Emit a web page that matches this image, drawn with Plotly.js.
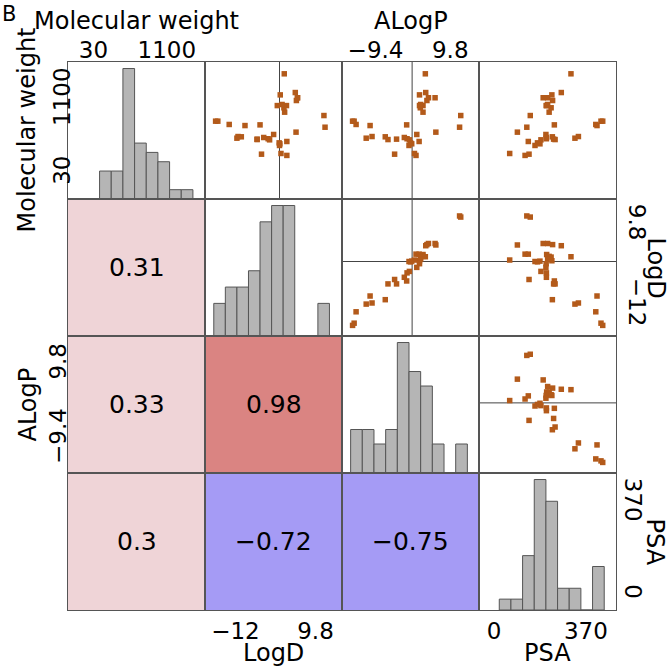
<!DOCTYPE html>
<html><head><meta charset="utf-8">
<script src="https://cdn.plot.ly/plotly-3.0.1.min.js"></script>
<style>html,body{margin:0;padding:0;background:#fff;} #chart{width:669px;height:668px;}</style>
</head><body><div id="chart"></div>
<script>
// ---------------- data ----------------
const variables = ["Molecular weight", "LogD", "ALogP", "PSA"];

const molecularWeight = [706, 876, 634, 1135, 1135, 1095, 1211, 295, 498, 1021, 925, 989, 1177, 1037, 1484, 323, 440, 464, 478, 1021, 600, 522, 538, 556, 313, 740, 532, 526, 566, 546, 570, 730, 746, 794, 794];
const logD = [12.4, 12.1, 4.5, 4.9, 4.9, 4.6, 4.3, 2.0, 2.0, 1.9, 1.4, 1.2, 0.2, 0.7, 1.3, 0.4, 0.0, 0.1, -0.1, -0.6, -1.6, -2.7, -3.1, -4.3, -4.9, -5.3, -6.1, -6.1, -10.4, -11.6, -11.3, -9.4, -13.7, -16.8, -17.4];
const aLogP = [12.2, 12.5, 6.1, 5.9, 4.2, 3.8, 3.5, 1.0, 1.8, 2.8, 2.8, 2.1, 1.9, 2.2, 3.4, 0.6, -0.8, -0.1, -0.4, 1.9, 1.2, -0.7, -1.3, -2.0, -4.5, -1.4, -4.0, -6.2, -6.9, -11.8, -10.3, -10.8, -14.4, -14.9, -15.3];
const psa = [132, 146, 94, 198, 216, 236, 271, 125, 138, 212, 222, 230, 233, 216, 310, 63, 165, 185, 175, 210, 209, 189, 211, 211, 141, 243, 240, 246, 235, 326, 340, 415, 410, 431, 438];

const mwBinEdges = [120, 290, 460, 630, 800, 970, 1140, 1310, 1480];
const mwCounts = [3, 3, 14, 6, 5, 4, 1, 1];
const logDBinEdges = [-17.9, -14.75, -11.6, -8.45, -5.3, -2.15, 1.0, 4.15, 7.3, 10.45, 13.6];
const logDCounts = [2, 3, 3, 4, 7, 8, 8, 0, 0, 2];
const aLogPBinEdges = [-15.8, -12.8, -9.8, -6.8, -3.8, -0.8, 2.2, 5.2, 8.2, 11.2, 14.2];
const aLogPCounts = [3, 3, 2, 3, 9, 7, 6, 2, 0, 2];
const psaBinEdges = [21, 68, 115, 162, 209, 256, 303, 350, 397, 444];
const psaCounts = [1, 1, 5, 12, 10, 2, 2, 0, 4];

// lower-triangle correlation cells (row, column, value)
const corrRows = [1, 2, 2, 3, 3, 3];
const corrCols = [0, 0, 1, 0, 1, 2];
const corrValues = [0.31, 0.33, 0.98, 0.3, -0.72, -0.75];

const mwTicks = [30, 1100];
const logDTicks = [-12, 9.8];
const aLogPTicks = [-9.4, 9.8];
const psaTicks = [0, 370];
const refLineLogD = 0;
const refLineALogP = 0;

// ---------------- layout / style ----------------
const W = 669, H = 668;
const colEdges = [68, 205, 342, 479, 616];
const rowEdges = [62, 199, 336, 473, 610];
const ranges = [[-340, 1656], [-20.29, 17.02], [-18.02, 17.19], [-60.7, 491.5]];
const varData = [molecularWeight, logD, aLogP, psa];
const hists = [
  {edges: mwBinEdges, counts: mwCounts},
  {edges: logDBinEdges, counts: logDCounts},
  {edges: aLogPBinEdges, counts: aLogPCounts},
  {edges: psaBinEdges, counts: psaCounts}
];
const refLines = [null, refLineLogD, refLineALogP, null];
const cellFill = ['#efd4d7', '#efd4d7', '#da8482', '#efd4d7', '#a59bf5', '#a59bf5'];
const FONT = 'DejaVu Sans, sans-serif';
const BORDER = '#555555';
const POINT = '#b35a1a';

function fmt(v) { return String(v).replace('-', '\u2212'); }

const traces = [];
const layout = {
  width: W, height: H,
  margin: {l: 0, r: 0, t: 0, b: 0},
  paper_bgcolor: '#ffffff', plot_bgcolor: 'rgba(0,0,0,0)',
  showlegend: false, shapes: [], annotations: [],
  font: {family: FONT, color: '#000'}
};
function base() {
  return {showgrid: false, zeroline: false, showline: true, mirror: true,
          linecolor: BORDER, linewidth: 1, ticks: '', showticklabels: false, fixedrange: true};
}
const tickFont = {family: FONT, size: 23, color: '#000'};

for (let r = 0; r < 4; r++) {
  for (let c = 0; c < 4; c++) {
    const k = r * 4 + c + 1;
    const sfx = k === 1 ? '' : String(k);
    const xid = 'x' + sfx, yid = 'y' + sfx;
    let yr = ranges[r];
    if (r === c) {
      const m = Math.max.apply(null, hists[r].counts);
      yr = [0, m * 1.05];
    }
    layout['xaxis' + sfx] = Object.assign(base(), {
      domain: [colEdges[c] / W, colEdges[c + 1] / W], anchor: yid, range: ranges[c]});
    layout['yaxis' + sfx] = Object.assign(base(), {
      domain: [1 - rowEdges[r + 1] / H, 1 - rowEdges[r] / H], anchor: xid, range: yr});

    if (r < c) {
      traces.push({type: 'scatter', mode: 'markers', x: varData[c], y: varData[r],
        xaxis: xid, yaxis: yid, hoverinfo: 'skip',
        marker: {symbol: 'square', size: 5.5, color: POINT, line: {width: 0}}});
      if (refLines[c] !== null) layout.shapes.push({type: 'line', layer: 'below',
        xref: xid, x0: refLines[c], x1: refLines[c], yref: yid + ' domain', y0: 0, y1: 1,
        line: {color: '#444', width: 1}});
      if (refLines[r] !== null) layout.shapes.push({type: 'line', layer: 'below',
        yref: yid, y0: refLines[r], y1: refLines[r], xref: xid + ' domain', x0: 0, x1: 1,
        line: {color: '#444', width: 1}});
    } else if (r === c) {
      const e = hists[r].edges, n = hists[r].counts;
      const centers = n.map((_, i) => (e[i] + e[i + 1]) / 2);
      const widths = n.map((_, i) => e[i + 1] - e[i]);
      traces.push({type: 'bar', x: centers, y: n, width: widths,
        xaxis: xid, yaxis: yid, hoverinfo: 'skip',
        marker: {color: '#b5b5b5', line: {color: '#555', width: 1}}});
    } else {
      // correlation cell: an empty trace so that the subplot exists
      traces.push({type: 'scatter', mode: 'markers', x: [], y: [], xaxis: xid, yaxis: yid, hoverinfo: 'skip'});
    }
  }
}
// correlation cells
for (let i = 0; i < corrValues.length; i++) {
  const k = corrRows[i] * 4 + corrCols[i] + 1;
  const sfx = k === 1 ? '' : String(k);
  layout.shapes.push({type: 'rect', layer: 'below', xref: 'x' + sfx + ' domain', yref: 'y' + sfx + ' domain',
    x0: 0, x1: 1, y0: 0, y1: 1, fillcolor: cellFill[i], line: {width: 0}});
  layout.annotations.push({xref: 'x' + sfx + ' domain', yref: 'y' + sfx + ' domain', x: 0.5, y: 0.5,
    text: fmt(corrValues[i]), showarrow: false, font: {family: FONT, size: 25, color: '#000'}});
}

function tickAxis(ax, vals, extra) {
  Object.assign(ax, {showticklabels: true, tickvals: vals, ticktext: vals.map(fmt), tickfont: tickFont}, extra || {});
}
// outer tick labels
tickAxis(layout.xaxis, mwTicks, {side: 'top', ticklabelstandoff: -6});
tickAxis(layout.xaxis3, aLogPTicks, {side: 'top', ticklabelstandoff: -6});
tickAxis(layout.xaxis14, logDTicks, {side: 'bottom'});
tickAxis(layout.xaxis16, psaTicks, {side: 'bottom'});
tickAxis(layout.yaxis9, aLogPTicks, {side: 'left', tickangle: -90, ticklabelstandoff: -8});
tickAxis(layout.yaxis8, logDTicks, {side: 'right', tickangle: 90, ticklabelstandoff: 3});
// overlay axes for row 1 (left) and row 4 (right), whose diagonal panels hold counts
layout.yaxis17 = Object.assign(base(), {overlaying: 'y', anchor: 'x', side: 'left', showline: false,
  range: ranges[0]});
tickAxis(layout.yaxis17, mwTicks, {tickangle: -90, ticklabelstandoff: -8});
layout.yaxis18 = Object.assign(base(), {overlaying: 'y16', anchor: 'x16', side: 'right', showline: false,
  range: ranges[3]});
tickAxis(layout.yaxis18, psaTicks, {tickangle: 90, ticklabelstandoff: 3});
traces.push({type: 'scatter', x: [], y: [], xaxis: 'x', yaxis: 'y17', hoverinfo: 'skip'});
traces.push({type: 'scatter', x: [], y: [], xaxis: 'x16', yaxis: 'y18', hoverinfo: 'skip'});

// titles
const titleFont = {family: FONT, size: 24, color: '#000'};
function title(text, px, py, angle) {
  layout.annotations.push({xref: 'paper', yref: 'paper', x: px / W, y: 1 - py / H, text: text,
    showarrow: false, textangle: angle || 0, xanchor: 'center', yanchor: 'middle', font: titleFont});
}
title(variables[0], (colEdges[0] + colEdges[1]) / 2, 21);
title(variables[2], (colEdges[2] + colEdges[3]) / 2, 21);
title(variables[1], (colEdges[1] + colEdges[2]) / 2, 653);
title(variables[3], (colEdges[3] + colEdges[4]) / 2, 653);
title(variables[0], 26, (rowEdges[0] + rowEdges[1]) / 2, -90);
title(variables[2], 27, (rowEdges[2] + rowEdges[3]) / 2, -90);
title(variables[1], 655, (rowEdges[1] + rowEdges[2]) / 2, 90);
title(variables[3], 655, (rowEdges[3] + rowEdges[4]) / 2, 90);
layout.annotations.push({xref: 'paper', yref: 'paper', x: 0, y: 1, xanchor: 'left', yanchor: 'top',
  text: 'B', showarrow: false, font: {family: FONT, size: 21, color: '#000'}});

Plotly.newPlot('chart', traces, layout, {staticPlot: true, displayModeBar: false});
</script></body></html>
